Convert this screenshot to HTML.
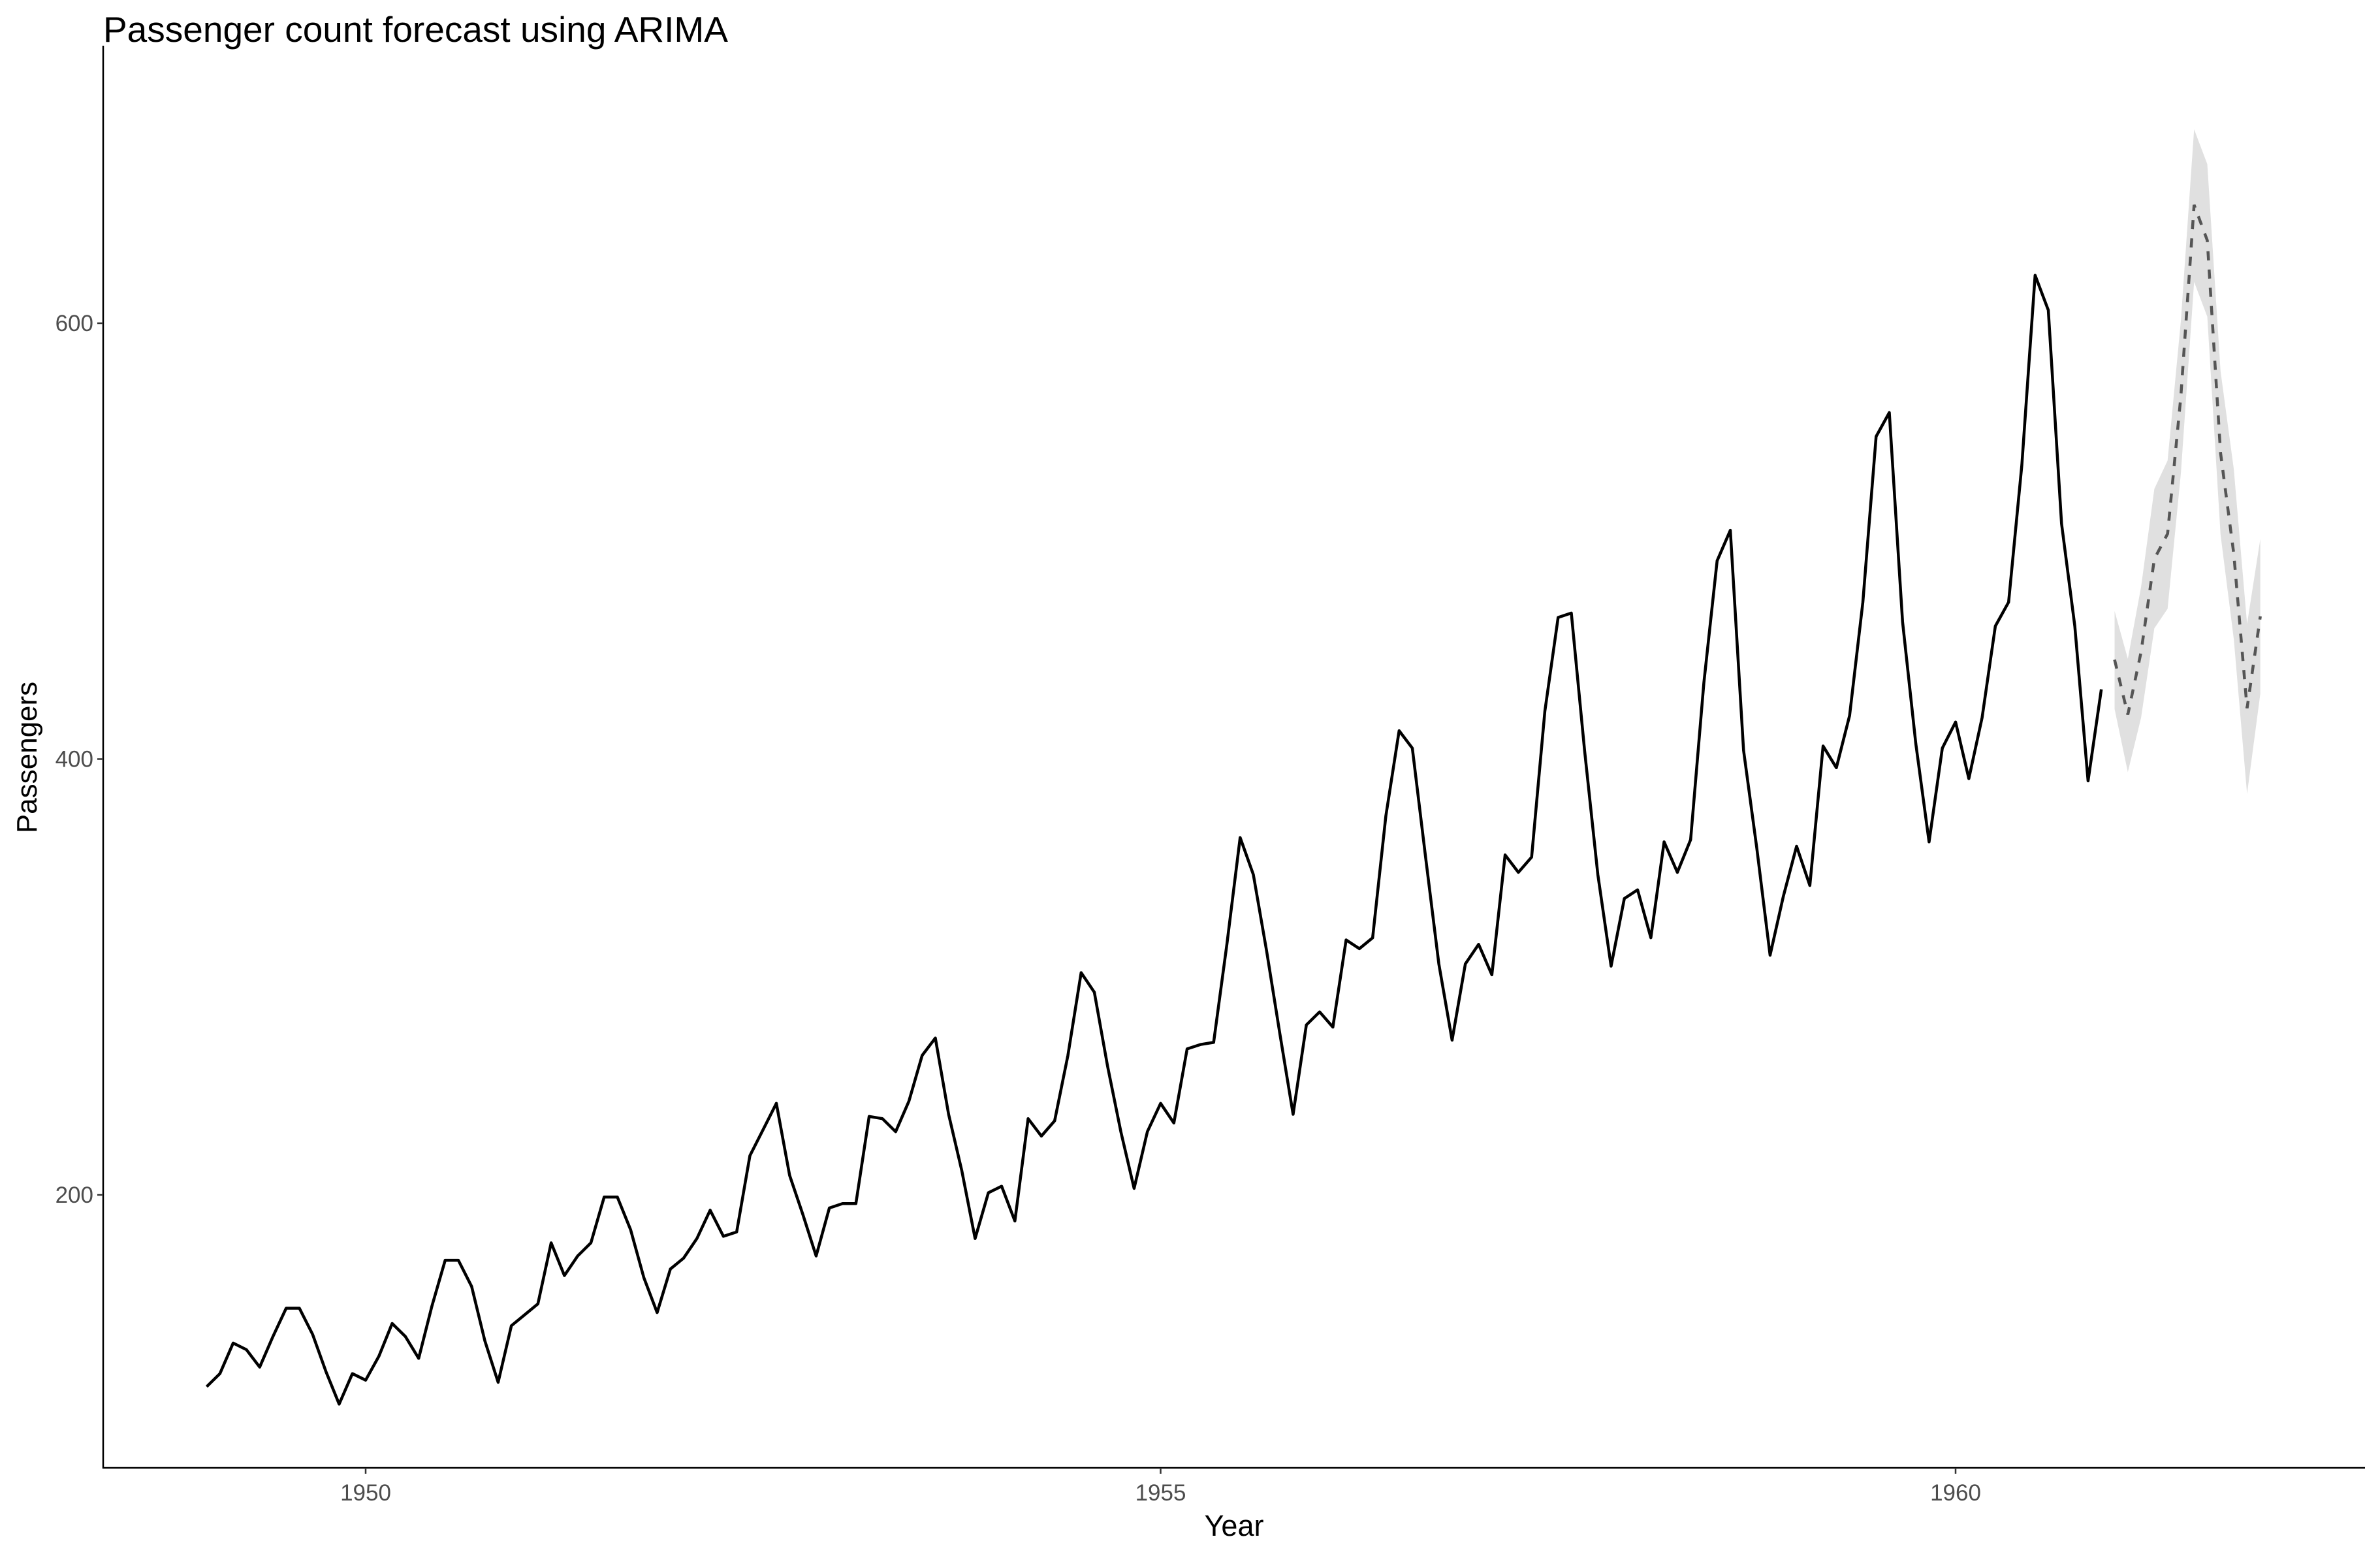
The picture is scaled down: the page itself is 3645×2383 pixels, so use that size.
<!DOCTYPE html>
<html><head><meta charset="utf-8"><style>
html,body{margin:0;padding:0;background:#fff}
svg{display:block;font-family:"Liberation Sans",Arial,sans-serif}
</style></head><body>
<svg id="chart" width="3645" height="2383" viewBox="0 0 3645 2383">
<rect width="3645" height="2383" fill="#fff"/>
<text x="158" y="64" font-size="55" fill="#000">Passenger count forecast using ARIMA</text>
<g id="band"></g>
<g id="hist"></g>
<g id="fc"></g>
<line x1="158" y1="70" x2="158" y2="2249" stroke="#000" stroke-width="2.5"/>
<line x1="157" y1="2248" x2="3622" y2="2248" stroke="#000" stroke-width="2.5"/>
<g id="yticks"></g>
<g id="xticks"></g>
<text x="1890" y="2352" font-size="45" text-anchor="middle" fill="#000">Year</text>
<text x="0" y="0" font-size="44" text-anchor="middle" fill="#000" transform="translate(56,1160) rotate(-90)">Passengers</text>
</svg>
<script>
const passengers = [112,118,132,129,121,135,148,148,136,119,104,118,
115,126,141,135,125,149,170,170,158,133,114,140,
145,150,178,163,172,178,199,199,184,162,146,166,
171,180,193,181,183,218,230,242,209,191,172,194,
196,196,236,235,229,243,264,272,237,211,180,201,
204,188,235,227,234,264,302,293,259,229,203,229,
242,233,267,269,270,315,364,347,312,274,237,278,
284,277,317,313,318,374,413,405,355,306,271,306,
315,301,356,348,355,422,465,467,404,347,305,336,
340,318,362,348,363,435,491,505,404,359,310,337,
360,342,406,396,420,472,548,559,463,407,362,405,
417,391,419,461,472,535,622,606,508,461,390,432];
const forecast = [445.6,420.4,449.2,491.8,503.4,566.4,654.3,638.0,540.5,494.1,423.3,465.5];
const forecastLo = [423,394,419,460,469,531,619,603,503,455,384,430];
const forecastHi = [468,446,479,524,537,601,689,673,578,533,462,501];
const yTicks = [200,400,600];
const xTicks = [1950,1955,1960];
const startYear = 1949;
const forecastStart = 1961;

const NS = "http://www.w3.org/2000/svg";
function xs(t){ return 560 + (t-1950)*243.5; }
function ys(v){ return 1830 - (v-200)*3.3375; }
function mk(tag, attrs, parent){
  const e = document.createElementNS(NS, tag);
  for (const k in attrs) e.setAttribute(k, attrs[k]);
  parent.appendChild(e); return e;
}
const bandG = document.getElementById('band');
let pts = [];
forecastHi.forEach((v,i)=>pts.push(xs(forecastStart+i/12).toFixed(1)+','+ys(v).toFixed(1)));
for (let i=forecastLo.length-1;i>=0;i--) pts.push(xs(forecastStart+i/12).toFixed(1)+','+ys(forecastLo[i]).toFixed(1));
const band = mk('polygon',{points:pts.join(' '),fill:'#e0e0e0'},bandG);


const hp = passengers.map((v,i)=>xs(startYear+i/12).toFixed(1)+','+ys(v).toFixed(1)).join(' ');
const hl = mk('polyline',{points:hp,fill:'none',stroke:'#000','stroke-width':4.5,'stroke-linejoin':'round'},document.getElementById('hist'));


const fp = forecast.map((v,i)=>xs(forecastStart+i/12).toFixed(1)+','+ys(v).toFixed(1)).join(' ');
const fl = mk('polyline',{points:fp,fill:'none',stroke:'#555','stroke-width':4.5,'stroke-dasharray':'14,14'},document.getElementById('fc'));


const yg = document.getElementById('yticks');
yTicks.forEach(v=>{
  const l = mk('line',{x1:149,x2:158,y1:ys(v),y2:ys(v),stroke:'#333','stroke-width':2.5},yg);
  
  
  const t = mk('text',{x:143,y:ys(v)+12,'font-size':35,'text-anchor':'end',fill:'#4d4d4d'},yg);
  t.textContent = v;
  
  
});
const xg = document.getElementById('xticks');
xTicks.forEach(v=>{
  const l = mk('line',{x1:xs(v),x2:xs(v),y1:2248,y2:2257,stroke:'#333','stroke-width':2.5},xg);
  
  
  const t = mk('text',{x:xs(v),y:2298,'font-size':35,'text-anchor':'middle',fill:'#4d4d4d'},xg);
  t.textContent = v;
  
  
});
</script>
</body></html>
